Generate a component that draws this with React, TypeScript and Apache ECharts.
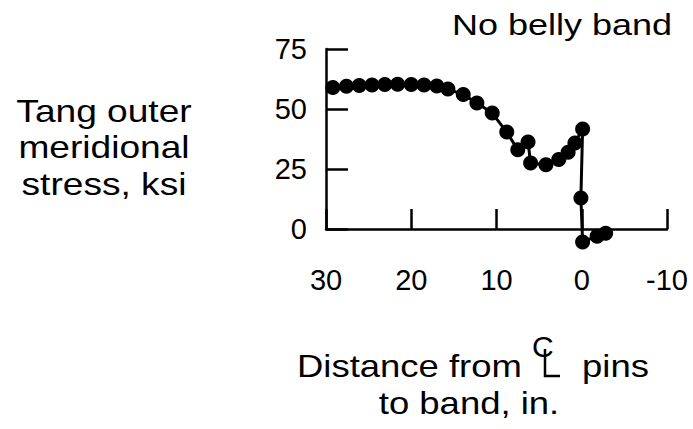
import React, { useEffect, useRef } from "react";
import * as echarts from "echarts";

// Distance from centerline pins to band, in.
const distances = [29.2, 27.6, 26.1, 24.6, 23.1, 21.6, 20.0, 18.5, 17.0, 15.7, 13.9, 12.3, 10.5, 8.8, 7.5, 6.3, 6.0, 4.2, 2.7, 1.6, 0.8, -0.1, 0.1, -0.1, -1.8, -2.8];
// Tang outer meridional stress, ksi
const stresses = [59, 59.5, 59.8, 60, 60.2, 60.3, 60.2, 60, 59.6, 58.3, 56, 52.5, 48.3, 40.4, 33, 36.3, 27.5, 26.8, 29, 32, 35.8, 41.7, 12.9, -5.4, -3, -1.8];

const xTicks = { min: -10, max: 30, interval: 10 };
const yTicks = { min: 0, max: 75, interval: 25 };

const titleText = "No belly band";
const yTitleLines = ["Tang outer", "meridional", "stress, ksi"];
const xTitleParts = ["Distance from", "pins", "to band, in."];

const FONT = "Liberation Sans";

export default function App() {
  const ref = useRef<HTMLDivElement>(null);
  useEffect(() => {
    if (!ref.current) return;
    const chart = echarts.init(ref.current, null, { renderer: "svg" });
    const data = distances.map((d, i) => [d, stresses[i]]);
    const txt = (text: string, x: number, y: number, size: number, sx: number, align: string) => ({
      type: "text",
      x,
      y,
      scaleX: sx,
      style: {
        text,
        x: 0,
        y: 0,
        fill: "#000",
        fontSize: size,
        fontFamily: FONT,
        textAlign: align,
        textVerticalAlign: "middle",
        verticalAlign: "middle",
      },
    });
    chart.setOption({
      animation: false,
      backgroundColor: "#fff",
      grid: { left: 326, right: 26, top: 49, bottom: 200, containLabel: false },
      xAxis: {
        type: "value",
        inverse: true,
        min: xTicks.min,
        max: xTicks.max,
        interval: xTicks.interval,
        axisLine: { show: true, onZero: false, lineStyle: { color: "#000", width: 2.5 } },
        axisTick: { show: true, inside: true, length: 20, lineStyle: { color: "#000", width: 2.5 } },
        axisLabel: { margin: 36, color: "#000", fontSize: 29, fontFamily: FONT },
        splitLine: { show: false },
      },
      yAxis: {
        type: "value",
        min: yTicks.min,
        max: yTicks.max,
        interval: yTicks.interval,
        axisLine: { show: true, onZero: false, lineStyle: { color: "#000", width: 2.5 } },
        axisTick: { show: true, inside: true, length: 22, lineStyle: { color: "#000", width: 2.5 } },
        axisLabel: { margin: 19, color: "#000", fontSize: 29, fontFamily: FONT },
        splitLine: { show: false },
      },
      series: [
        {
          type: "line",
          data,
          clip: false,
          symbol: "circle",
          symbolSize: 15,
          lineStyle: { color: "#000", width: 3 },
          itemStyle: { color: "#000" },
        },
      ],
      graphic: [
        txt(titleText, 562, 25, 30, 1.2, "center"),
        txt(yTitleLines[0], 104, 111, 32, 1.16, "center"),
        txt(yTitleLines[1], 104, 147, 32, 1.16, "center"),
        txt(yTitleLines[2], 104, 184, 32, 1.16, "center"),
        txt(xTitleParts[0], 297, 366, 32, 1.14, "left"),
        txt(xTitleParts[1], 582, 366, 32, 1.14, "left"),
        txt(xTitleParts[2], 469, 403, 32, 1.14, "center"),
        txt("C", 532, 346, 30, 1.0, "left"),
        {
          type: "polyline",
          shape: { points: [[545, 349], [545, 376], [560, 376]] },
          style: { stroke: "#000", lineWidth: 2.5, fill: null },
        },
      ],
    });
    return () => chart.dispose();
  }, []);
  return (
    <div
      ref={ref}
      style={{ position: "fixed", left: 0, top: 0, width: 693, height: 429, background: "#fff" }}
    />
  );
}
